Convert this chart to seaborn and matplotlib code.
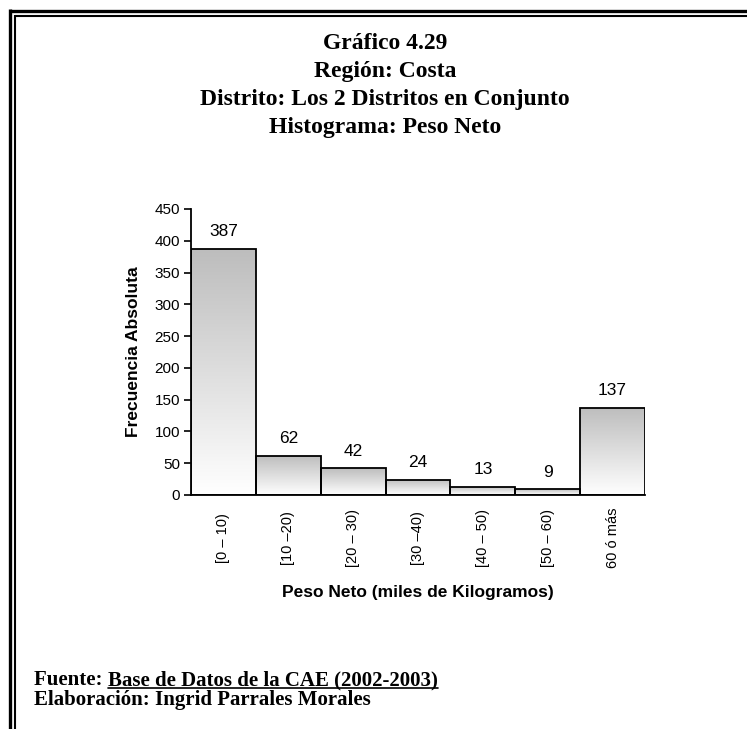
import numpy as np
import pandas as pd
import matplotlib
matplotlib.use('Agg')
import matplotlib.pyplot as plt
import seaborn as sns
from matplotlib.lines import Line2D
from matplotlib.colors import LinearSegmentedColormap

# data
categories = ['[0 – 10)', '[10 –20)', '[20 – 30)', '[30 –40)', '[40 – 50)', '[50 – 60)', '60 ó más']
frequencies = [387, 62, 42, 24, 13, 9, 137]

title_lines = ['Gráfico 4.29', 'Región: Costa', 'Distrito: Los 2 Distritos en Conjunto', 'Histograma: Peso Neto']

sns.set_theme(style='white')
plt.rcParams['font.family'] = ['Liberation Sans', 'DejaVu Sans']
for k in ['text.color', 'axes.labelcolor', 'xtick.color', 'ytick.color']:
    plt.rcParams[k] = 'black'

W, H = 747, 729
fig = plt.figure(figsize=(W / 100, H / 100), dpi=100)
fig.patch.set_facecolor('white')

# axes placed in pixel terms of the reference
left, right, top, bottom = 191, 645, 209, 495
ax = fig.add_axes([left / W, 1 - bottom / H, (right - left) / W, (bottom - top) / H])

df = pd.DataFrame({'rango': categories, 'frecuencia': frequencies})
sns.barplot(data=df, x='rango', y='frecuencia', order=categories, width=1.0,
            color='white', edgecolor='black', linewidth=1.3, ax=ax)

# vertical gray-to-white gradient inside each bar
grad_cmap = LinearSegmentedColormap.from_list('g', ['#ffffff', '#bdbdbd'])
grad = np.linspace(0, 1, 256).reshape(-1, 1)
for p in ax.patches:
    x0, w, h = p.get_x(), p.get_width(), p.get_height()
    im = ax.imshow(grad, extent=[x0, x0 + w, 0, h], origin='lower', aspect='auto',
                   cmap=grad_cmap, zorder=1.5, interpolation='bicubic')
    im.set_clip_path(p)
    p.set_facecolor('none')
    p.set_zorder(2)

ax.set_xlim(-0.5, len(categories) - 0.5)
ax.set_ylim(0, 450)
ax.set_yticks(range(0, 451, 50))

for c in ax.containers:
    ax.bar_label(c, labels=[str(v) for v in frequencies], padding=7, fontsize=12.5)

sns.despine(ax=ax)
for s in ['left', 'bottom']:
    ax.spines[s].set_color('black')
    ax.spines[s].set_linewidth(1.3)

ax.set_xticks(range(len(categories)))
ax.set_xticklabels(categories, rotation=90, fontsize=10.5)
for lab in ax.get_xticklabels():
    lab.set_va('center')
ax.set_xticks(np.arange(-0.5, len(categories)), minor=True)
ax.tick_params(axis='x', which='major', length=0, pad=31)
ax.tick_params(axis='x', which='minor', length=4, width=1.2, color='black', direction='out')
ax.tick_params(axis='y', length=5, width=1.2, color='black', direction='out', labelsize=11, pad=3, left=True)

ax.set_xlabel('Peso Neto (miles de Kilogramos)', fontsize=12.5, fontweight='bold', labelpad=12)
ax.set_ylabel('Frecuencia Absoluta', fontsize=12.5, fontweight='bold', labelpad=10)

serif = ['Liberation Serif', 'DejaVu Serif']

# titles
for i, t in enumerate(title_lines):
    fig.text(385 / W, 1 - (49 + 28 * i) / H, t, ha='center', va='baseline',
             fontsize=17, fontweight='bold', family=serif)

# footer
t1 = fig.text(34 / W, 1 - 685 / H, 'Fuente: ', ha='left', va='baseline', fontsize=15,
              fontweight='bold', family=serif)
fig.canvas.draw()
bb = t1.get_window_extent()
t2 = fig.text(bb.x1 / W, 1 - 685 / H, 'Base de Datos de la CAE (2002-2003)', ha='left', va='baseline',
              fontsize=15, fontweight='bold', family=serif)
fig.text(34 / W, 1 - 705 / H, 'Elaboración: Ingrid Parrales Morales', ha='left', va='baseline',
         fontsize=15, fontweight='bold', family=serif)
fig.canvas.draw()
bb2 = t2.get_window_extent()
uy = (H - 687.5) / H
fig.add_artist(Line2D([bb2.x0 / W, bb2.x1 / W], [uy, uy],
                      color='black', linewidth=1.2, transform=fig.transFigure))

# double frame on top and left
def px_line(xs, ys, lw):
    fig.add_artist(Line2D([x / W for x in xs], [1 - y / H for y in ys],
                          color='black', linewidth=lw, transform=fig.transFigure,
                          solid_capstyle='butt'))

px_line([9.5, W], [10.5, 10.5], 2.4)
px_line([9.5, 9.5], [9.3, H], 2.4)
px_line([15, W], [15.5, 15.5], 1.5)
px_line([15, 15], [14.8, H], 1.5)

fig.savefig('out.png', dpi=100)
